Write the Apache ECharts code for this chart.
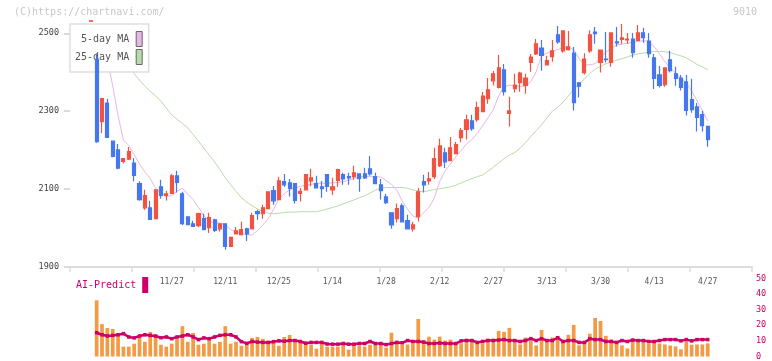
<!DOCTYPE html>
<html><head><meta charset="utf-8">
<script src="https://cdn.jsdelivr.net/npm/echarts@6/dist/echarts.min.js"></script>
<style>html,body{margin:0;padding:0;background:#fff}#c{width:772px;height:361px}</style>
</head><body><div id="c"></div>
<script>
// ---- data ----
const dateLabels = ['11/27','12/11','12/25','1/14','1/28','2/12','2/27','3/13','3/30','4/13','4/27'];
const labelIndex = [15,25,35,45,55,65,75,85,95,105,115];

const opens = [2531,2433,2273,2321,2223,2201,2171,2177,2167,2114,2052,2052,2024,2106,2084,2089,2134,2088,2029,2011,
2006,2024,2001,2021,1998,2011,1953,1985,1983,1998,1998,2042,2037,2050,2096,2073,2119,2116,2114,2089,
2098,2121,2114,2106,2137,2098,2122,2137,2132,2132,2139,2139,2152,2132,2111,2080,2039,2024,2057,2019,
1998,2029,2119,2121,2132,2160,2193,2173,2191,2232,2253,2275,2278,2299,2332,2378,2361,2406,2294,2358,
2373,2366,2425,2447,2462,2419,2440,2496,2455,2458,2449,2373,2399,2455,2503,2425,2434,2425,2478,2484,
2483,2485,2482,2501,2480,2437,2393,2368,2432,2396,2385,2375,2330,2311,2291,2261];
const closes = [2532,2222,2332,2233,2184,2154,2178,2196,2135,2073,2083,2022,2098,2084,2088,2134,2117,2011,2009,2004,
2037,1996,2027,1994,2011,1953,1976,1993,1996,1985,2032,2037,2052,2093,2070,2121,2111,2102,2071,2094,
2137,2129,2103,2101,2107,2106,2150,2126,2129,2142,2127,2129,2139,2114,2096,2065,2008,2050,2016,1998,
2008,2093,2111,2126,2178,2211,2170,2206,2214,2250,2278,2255,2309,2339,2355,2396,2411,2350,2301,2367,
2398,2385,2439,2473,2443,2430,2455,2478,2506,2465,2322,2364,2434,2496,2499,2457,2432,2501,2475,2488,
2485,2450,2501,2489,2448,2384,2366,2411,2404,2384,2361,2302,2304,2284,2263,2227];
const lows = [2531,2219,2244,2231,2182,2151,2166,2175,2120,2070,2047,2021,2022,2075,2071,2087,2091,2008,2008,2004,
2003,1996,1987,1990,1991,1944,1953,1985,1981,1967,1996,2021,2024,2050,2060,2073,2106,2081,2063,2068,
2098,2107,2103,2078,2093,2085,2106,2111,2111,2124,2093,2126,2134,2114,2073,2062,1998,2014,2016,1998,
1991,2017,2091,2111,2126,2157,2154,2173,2191,2220,2227,2250,2273,2297,2319,2366,2358,2340,2261,2348,
2350,2345,2401,2444,2404,2418,2427,2473,2450,2456,2302,2335,2394,2450,2473,2399,2425,2414,2466,2473,
2473,2437,2482,2476,2437,2357,2361,2363,2399,2365,2353,2289,2296,2248,2248,2209];
const highs = [2532,2449,2332,2332,2225,2216,2180,2208,2180,2120,2098,2070,2098,2124,2096,2139,2147,2093,2029,2019,
2039,2037,2039,2024,2011,2011,1978,2003,2016,2001,2039,2047,2060,2093,2108,2132,2139,2126,2114,2103,
2137,2152,2134,2121,2137,2129,2152,2142,2142,2160,2139,2155,2185,2142,2126,2088,2039,2063,2063,2034,
2016,2103,2137,2144,2206,2229,2206,2234,2221,2257,2291,2291,2324,2349,2385,2403,2444,2421,2337,2396,
2401,2396,2447,2485,2483,2442,2483,2519,2506,2506,2465,2373,2449,2508,2516,2457,2503,2501,2516,2524,
2501,2501,2521,2514,2501,2447,2416,2411,2455,2414,2393,2393,2383,2321,2301,2262];

const ma5 = [null,null,null,2432,2365,2288,2226,2212,2188,2165,2144,2127,2103,2088,2081,2083,2095,2102,2087,2073,
2053,2032,2018,2013,2013,2008,1996,1990,1986,1983,1982,1993,2008,2024,2048,2075,2088,2098,2103,2107,
2110,2112,2115,2115,2115,2116,2117,2119,2123,2127,2132,2132,2132,2132,2131,2122,2112,2097,2070,2048,
2031,2026,2039,2053,2077,2119,2147,2164,2183,2199,2216,2227,2243,2263,2283,2304,2339,2363,2367,2365,
2364,2364,2376,2401,2442,2449,2454,2458,2463,2466,2457,2435,2419,2419,2422,2438,2452,2461,2470,2472,
2474,2477,2479,2481,2479,2466,2447,2427,2412,2397,2384,2373,2352,2327,2302,2275];
const ma25 = [null,null,null,null,null,null,null,2416,2396,2380,2364,2351,2339,2326,2308,2291,2279,2269,2257,2240,
2223,2205,2187,2170,2150,2129,2111,2094,2078,2067,2057,2049,2043,2038,2037,2038,2040,2041,2041,2042,
2042,2042,2042,2045,2049,2053,2057,2062,2067,2072,2078,2083,2090,2097,2102,2104,2104,2104,2104,2102,
2098,2095,2093,2096,2099,2101,2103,2106,2110,2116,2121,2127,2132,2136,2146,2156,2167,2178,2187,2194,
2205,2219,2235,2250,2265,2283,2300,2310,2323,2339,2356,2369,2383,2397,2408,2415,2422,2426,2431,2435,
2439,2444,2447,2449,2452,2453,2453,2453,2450,2446,2442,2437,2429,2420,2414,2406];

const volumes = [null,35.9,20.7,18.2,17.6,13.2,6.3,6.3,8.2,13.2,9.4,15.7,12.5,7.5,6.3,8.2,11.3,19.4,9.4,15.1,
7.5,8.2,10.7,8.2,9.4,19.4,8.2,9.4,6.9,8.2,11.9,12.5,11.3,10.0,8.8,6.9,12.5,13.8,10.7,10.0,
8.8,7.5,5.0,8.2,6.3,6.3,6.3,7.5,4.4,7.5,6.9,6.3,7.5,7.5,7.5,5.7,15.2,8.5,7.6,7.7,
8.5,24.0,10.2,12.7,10.8,12.7,10.2,10.8,7.7,8.5,11.4,10.8,8.3,8.3,11.4,11.4,16.4,15.8,18.3,10.2,
7.7,12.1,10.2,7.1,17.0,9.6,12.1,13.2,9.6,13.9,20.2,7.1,8.3,14.6,24.6,22.7,13.2,10.8,8.3,7.1,
5.2,9.6,9.6,9.6,8.3,9.6,8.3,7.7,7.0,6.5,4.6,9.6,7.5,7.7,7.7,8.4];
const aiPredict = [null,15.2,13.9,13.1,13.5,13.9,14.6,12.5,11.9,13.1,13.9,13.5,13.1,12.0,12.5,11.4,12.5,13.1,13.9,12.5,
10.8,11.9,11.4,12.5,13.5,13.9,13.9,12.5,9.5,8.4,9.6,9.2,9.0,9.0,9.5,10.0,9.8,10.2,10.2,9.6,
8.5,9.0,9.0,9.0,8.0,7.9,7.9,8.3,7.9,7.9,8.3,8.3,9.6,8.3,8.3,7.6,8.3,9.0,8.8,10.2,
9.6,9.6,9.2,8.3,8.3,8.6,8.3,8.3,8.3,10.0,10.2,10.2,9.0,9.6,10.2,10.2,10.5,10.8,10.2,10.2,
9.6,10.2,11.4,10.2,11.4,10.2,10.2,12.0,9.6,10.2,10.2,9.0,9.0,11.4,10.8,10.8,9.6,9.6,9.0,10.2,
9.6,10.5,10.2,10.2,9.6,9.6,10.2,10.8,10.8,10.8,10.0,10.8,10.0,10.8,10.8,10.8];
const priceTicks = [1900,2100,2300,2500];

// ---- build ----
const cats = opens.map((_, i) => 'd' + i);
const labelAt = {};
labelIndex.forEach((k, j) => { labelAt[k] = dateLabels[j]; });
const ohlc = opens.map((o, i) => [o, closes[i], lows[i], highs[i]]);

const FONT = 'DejaVu Sans Mono';
const RED = '#f25442', BLUE = '#4478ec';
const chart = echarts.init(document.getElementById('c'), null, {renderer: 'canvas'});
chart.setOption({
  animation: false,
  backgroundColor: '#fff',
  graphic: [
    {type: 'text', left: 14, top: 7, z: 1, style: {text: '(C)https://chartnavi.com/', fill: '#c8c8c8', font: '10px "DejaVu Sans Mono"'}},
    {type: 'text', right: 15, top: 7, z: 1, style: {text: '9010', fill: '#c8c8c8', font: '10px "DejaVu Sans Mono"'}}
  ],
  grid: [
    {left: 70, right: 20, top: 13.8, bottom: 94},
    {left: 88.6, right: 61.6, top: 13.8, bottom: 94},
    {left: 88.6, right: 61.6, top: 278.3, bottom: 2.7}
  ],
  legend: [
    {
      data: ['5-day MA', '25-day MA'], orient: 'vertical', left: 70, top: 24, align: 'right',
      icon: 'rect', itemWidth: 6, itemHeight: 15, itemGap: 2,
      padding: [7, 6, 7, 5], backgroundColor: '#fff', borderColor: '#dedede', borderWidth: 1.5,
      itemStyle: {borderColor: '#666', borderWidth: 1},
      textStyle: {fontFamily: FONT, fontSize: 10, color: '#555', padding: [0, 2, 0, 0]},
      selectedMode: false, z: 3
    },
    {
      data: ['AI-Predict'], orient: 'horizontal', left: 76, top: 277, align: 'right',
      icon: 'rect', itemWidth: 6, itemHeight: 16, padding: 0,
      itemStyle: {borderWidth: 0},
      textStyle: {fontFamily: FONT, fontSize: 10, color: '#cc0066', padding: [0, 1, 0, 0]},
      selectedMode: false
    }
  ],
  xAxis: [
    {gridIndex: 0, type: 'value', min: 0, max: 11, interval: 1,
     axisLine: {show: true, lineStyle: {color: '#dcdcdc', width: 2}},
     axisTick: {show: true, length: 5, lineStyle: {color: '#dcdcdc', width: 1.5}},
     axisLabel: {show: false}, splitLine: {show: false}},
    {gridIndex: 1, type: 'category', data: cats, boundaryGap: true,
     axisLine: {show: false}, axisTick: {show: false}, splitLine: {show: false},
     axisLabel: {show: true, interval: (i) => labelAt[i] !== undefined,
                 formatter: (v, i) => labelAt[i] || '', color: '#555', fontFamily: FONT, fontSize: 8, margin: 11}},
    {gridIndex: 2, type: 'category', data: cats, boundaryGap: true, show: false}
  ],
  yAxis: [
    {gridIndex: 0, type: 'value', min: 1900, max: 2550, position: 'left',
     axisLine: {show: false},
     axisTick: {show: true, length: 6, customValues: priceTicks, lineStyle: {color: '#cfcfcf', width: 1.5}},
     axisLabel: {customValues: priceTicks, formatter: (v) => String(v), color: '#444', fontFamily: FONT, fontSize: 8.5, margin: 11},
     splitLine: {show: false}},
    {gridIndex: 1, type: 'value', min: 1900, max: 2550, show: false},
    {gridIndex: 2, type: 'value', min: 0, max: 50, interval: 10, position: 'right', offset: 41.6,
     axisLine: {show: false}, axisTick: {show: false}, splitLine: {show: false},
     axisLabel: {formatter: (v) => String(v), color: '#cc0066', fontFamily: FONT, fontSize: 8.5, margin: 4}}
  ],
  series: [
    {name: '5-day MA', type: 'line', xAxisIndex: 1, yAxisIndex: 1, data: ma5, showSymbol: false,
     itemStyle: {color: '#e8b6e8'}, lineStyle: {color: '#e8b6e8', width: 1}, z: 2},
    {name: '25-day MA', type: 'line', xAxisIndex: 1, yAxisIndex: 1, data: ma25, showSymbol: false,
     itemStyle: {color: '#b8dca8'}, lineStyle: {color: '#b8dca8', width: 1}, z: 2},
    {name: 'price', type: 'candlestick', xAxisIndex: 1, yAxisIndex: 1, data: ohlc, barWidth: 3.6, z: 5,
     itemStyle: {color: RED, color0: BLUE, borderColor: RED, borderColor0: BLUE, borderWidth: 1.2}},
    {name: 'volume', type: 'bar', xAxisIndex: 2, yAxisIndex: 2, data: volumes, barWidth: 3.7,
     itemStyle: {color: '#f39a45'}, z: 2},
    {name: 'AI-Predict', type: 'line', xAxisIndex: 2, yAxisIndex: 2, data: aiPredict,
     symbol: 'rect', symbolSize: 3.5, showSymbol: true,
     itemStyle: {color: '#cc0066'}, lineStyle: {color: '#cc0066', width: 2.5}, z: 3}
  ]
});
</script>
</body></html>
